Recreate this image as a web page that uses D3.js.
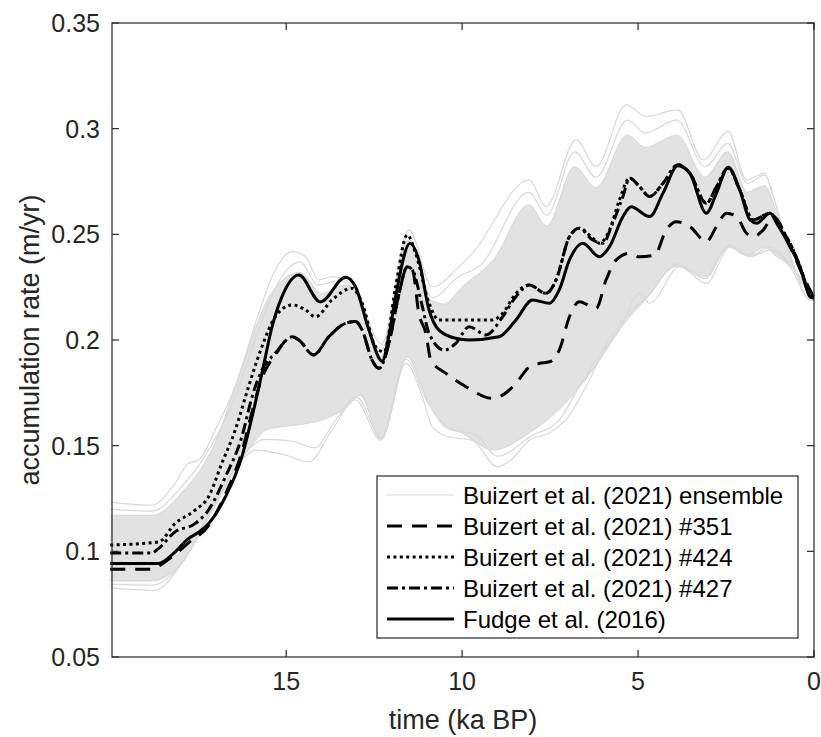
<!DOCTYPE html>
<html>
<head>
<meta charset="utf-8">
<script src="https://cdn.jsdelivr.net/npm/d3@7"></script>
<style>
  body { margin: 0; background: #fff; }
  text { font-family: "Liberation Sans", Arial, Helvetica, sans-serif; fill: #262626; }
</style>
</head>
<body>
<div id="chart"></div>
<script>
// Fudge et al. (2016) - solid
var fudgeTime = [20, 18.63, 18.2, 17.78, 17.49, 17.21, 16.73, 16.26, 15.97, 15.69, 15.40, 15.12, 14.64, 14.03, 13.31, 13.03, 12.65, 12.27, 12.08, 11.89, 11.48, 11.23, 10.94, 10.66, 10.18, 9.80, 8.95, 8.47, 8.0, 7.52, 7.24, 6.95, 6.57, 6.10, 5.81, 5.43, 5.2, 4.67, 4.29, 3.87, 3.53, 3.06, 2.77, 2.44, 2.11, 1.82, 1.63, 1.25, 1.06, 0.68, 0.40, 0.11, 0];
var fudgeAcc = [0.0942, 0.0942, 0.099, 0.106, 0.109, 0.113, 0.1257, 0.1447, 0.1636, 0.1842, 0.2063, 0.2205, 0.2308, 0.218, 0.2297, 0.2252, 0.2047, 0.190, 0.202, 0.2205, 0.2458, 0.2379, 0.2142, 0.2047, 0.2008, 0.2, 0.2015, 0.2095, 0.2189, 0.2174, 0.2237, 0.2379, 0.2458, 0.2394, 0.2442, 0.2584, 0.2630, 0.2584, 0.2695, 0.2824, 0.2789, 0.26, 0.2695, 0.2818, 0.271, 0.2568, 0.2553, 0.26, 0.2553, 0.2442, 0.2347, 0.2205, 0.2199];

// Buizert #424 - dotted
var b424Time = [20, 18.63, 18.16, 17.59, 17.21, 16.83, 16.45, 16.07, 15.69, 15.31, 14.83, 14.45, 14.17, 13.70, 13.13, 12.84, 12.46, 12.22, 11.89, 11.56, 11.32, 10.94, 10.66, 10.18, 9.14, 8.85, 8.47, 8.09, 7.62, 7.33, 6.95, 6.67, 6.29, 6.10, 5.81, 5.53, 5.24, 4.96, 4.67, 4.29, 3.87, 3.53, 3.06, 2.77, 2.44, 2.11, 1.73, 1.25, 0.97, 0.59, 0.30, 0.11, 0];
var b424Acc = [0.103, 0.1044, 0.1131, 0.1195, 0.1257, 0.1416, 0.1573, 0.1779, 0.1968, 0.211, 0.2166, 0.2142, 0.211, 0.2189, 0.2245, 0.2174, 0.1968, 0.1944, 0.2252, 0.2497, 0.241, 0.2174, 0.2095, 0.2095, 0.2095, 0.2126, 0.2221, 0.226, 0.2221, 0.2284, 0.2489, 0.2529, 0.2482, 0.2458, 0.2521, 0.2663, 0.2766, 0.2726, 0.2679, 0.2742, 0.2829, 0.279, 0.2647, 0.2726, 0.2813, 0.271, 0.2568, 0.26, 0.2537, 0.2426, 0.23, 0.2205, 0.22];

// Buizert #427 - dash-dot
var b427Time = [20, 18.82, 18.63, 18.16, 17.59, 17.21, 16.73, 16.26, 15.97, 15.69, 15.31, 14.83, 14.64, 14.22, 13.79, 13.31, 13.03, 12.84, 12.56, 12.36, 12.08, 11.79, 11.56, 11.41, 11.13, 10.94, 10.5, 10.18, 9.80, 9.32, 8.85, 8.47, 8.09, 7.62, 7.33, 6.95, 6.67, 6.29, 6.00, 5.72, 5.43, 5.24, 4.96, 4.67, 4.29, 3.87, 3.53, 3.06, 2.77, 2.44, 2.11, 1.73, 1.25, 0.97, 0.59, 0.30, 0.11, 0];
var b427Acc = [0.0992, 0.0992, 0.1013, 0.1092, 0.1131, 0.1195, 0.1352, 0.1542, 0.1731, 0.1858, 0.1937, 0.2015, 0.2, 0.1929, 0.2015, 0.2079, 0.2087, 0.2047, 0.1905, 0.1866, 0.1984, 0.2221, 0.2347, 0.2331, 0.2158, 0.2031, 0.1952, 0.1984, 0.2063, 0.2024, 0.211, 0.2205, 0.226, 0.2221, 0.2284, 0.2489, 0.2529, 0.2473, 0.2458, 0.2553, 0.2679, 0.2766, 0.2726, 0.2679, 0.2742, 0.2829, 0.279, 0.2647, 0.2726, 0.2813, 0.271, 0.2568, 0.26, 0.2537, 0.2426, 0.23, 0.2205, 0.22];

// Buizert #351 - dashed
var b351Time = [20, 18.82, 18.63, 18.2, 17.78, 17.21, 16.73, 16.26, 15.97, 15.69, 15.31, 14.83, 14.64, 14.22, 13.79, 13.31, 13.03, 12.84, 12.56, 12.36, 12.08, 11.79, 11.56, 11.41, 11.23, 11.03, 10.89, 10.46, 9.89, 9.14, 8.85, 8.47, 8.09, 7.81, 7.52, 7.24, 6.95, 6.67, 6.19, 5.91, 5.62, 5.24, 4.96, 4.53, 4.20, 3.91, 3.53, 3.06, 2.77, 2.49, 2.20, 1.92, 1.73, 1.44, 1.16, 0.68, 0.30, 0];
var b351Acc = [0.0915, 0.0915, 0.093, 0.098, 0.104, 0.112, 0.127, 0.147, 0.166, 0.182, 0.193, 0.2015, 0.2, 0.1929, 0.2015, 0.2079, 0.2087, 0.2047, 0.1905, 0.1866, 0.1984, 0.2221, 0.2347, 0.2331, 0.2126, 0.2031, 0.1905, 0.1842, 0.1779, 0.1724, 0.1739, 0.1795, 0.1873, 0.1889, 0.1897, 0.1952, 0.211, 0.2181, 0.215, 0.2284, 0.2379, 0.241, 0.2394, 0.2402, 0.2521, 0.256, 0.2537, 0.2465, 0.2537, 0.26, 0.2584, 0.2505, 0.2489, 0.2521, 0.2584, 0.2442, 0.23, 0.22];

// ensemble: dense core band
var coreTime = [20, 18.8, 18.0, 17.0, 16.2, 15.5, 14.6, 14.0, 13.3, 12.9, 12.3, 11.55, 11.0, 10.5, 10.0, 9.1, 8.1, 7.6, 6.8, 6.2, 5.3, 4.8, 3.9, 3.1, 2.45, 1.9, 1.4, 1.1, 0.6, 0];
var coreHigh = [0.117, 0.117, 0.127, 0.152, 0.19, 0.22, 0.232, 0.222, 0.226, 0.22, 0.192, 0.247, 0.22, 0.217, 0.225, 0.238, 0.264, 0.254, 0.282, 0.272, 0.297, 0.291, 0.297, 0.277, 0.289, 0.27, 0.273, 0.262, 0.235, 0.22];
var coreLow = [0.086, 0.086, 0.094, 0.122, 0.145, 0.158, 0.16, 0.162, 0.168, 0.174, 0.153, 0.192, 0.172, 0.16, 0.156, 0.148, 0.156, 0.162, 0.175, 0.188, 0.21, 0.219, 0.235, 0.23, 0.244, 0.24, 0.244, 0.240, 0.234, 0.22];

// ensemble: outer members
var ensTopTime = [20, 18.82, 18.16, 17.78, 17.49, 17.02, 16.45, 15.78, 15.31, 14.83, 14.45, 14.07, 13.70, 13.03, 12.56, 12.3, 11.51, 10.85, 10.09, 9.71, 8.09, 7.62, 6.76, 6.19, 5.34, 4.77, 3.87, 3.15, 2.44, 1.92, 1.40, 1.16, 0.59, 0.21, 0];
var ensTopAcc = [0.1233, 0.1218, 0.1321, 0.1416, 0.1431, 0.1573, 0.1779, 0.2126, 0.2331, 0.2418, 0.2394, 0.2284, 0.23, 0.2252, 0.2047, 0.198, 0.2521, 0.2252, 0.2347, 0.241, 0.2758, 0.2631, 0.2947, 0.2821, 0.3113, 0.3058, 0.3089, 0.2852, 0.2987, 0.2758, 0.2789, 0.2679, 0.2363, 0.2205, 0.219];
var ensTop2Time = [20, 18.82, 18.0, 17.2, 16.5, 15.8, 15.2, 14.6, 14.1, 13.5, 13.0, 12.3, 11.55, 10.85, 10.1, 9.5, 8.1, 7.6, 6.8, 6.2, 5.3, 4.8, 3.9, 3.1, 2.45, 1.9, 1.4, 1.1, 0.6, 0];
var ensTop2Acc = [0.12, 0.119, 0.13, 0.148, 0.171, 0.204, 0.228, 0.237, 0.226, 0.228, 0.222, 0.195, 0.249, 0.22, 0.23, 0.235, 0.27, 0.259, 0.289, 0.277, 0.304, 0.298, 0.304, 0.282, 0.293, 0.274, 0.278, 0.265, 0.236, 0.22];
var ensLowTime = [20, 18.75, 17.97, 17.02, 16.26, 15.88, 15.02, 14.36, 13.70, 13.03, 12.31, 11.6, 11.13, 10.85, 10.37, 9.71, 9.0, 8.6, 8.09, 7.52, 6.95, 6.48, 6.00, 5.53, 4.96, 4.67, 3.82, 3.06, 2.39, 1.82, 1.25, 0.68, 0.11, 0];
var ensLowAcc = [0.0828, 0.0815, 0.0942, 0.1226, 0.1431, 0.1479, 0.1455, 0.1423, 0.1573, 0.1716, 0.1526, 0.1889, 0.1731, 0.1589, 0.1542, 0.1526, 0.14, 0.1435, 0.1526, 0.156, 0.1645, 0.178, 0.1937, 0.2047, 0.2221, 0.2174, 0.2347, 0.2268, 0.2442, 0.2394, 0.2426, 0.2347, 0.219, 0.219];
var ensLow2Time = [20, 18.8, 17.9, 17.0, 16.2, 15.6, 14.8, 14.2, 13.6, 13.0, 12.3, 11.6, 11.0, 10.4, 9.6, 9.0, 8.0, 7.3, 6.6, 5.9, 5.3, 4.7, 3.9, 3.1, 2.4, 1.8, 1.25, 0.7, 0];
var ensLow2Acc = [0.0845, 0.084, 0.096, 0.124, 0.146, 0.153, 0.152, 0.149, 0.162, 0.173, 0.154, 0.191, 0.171, 0.158, 0.155, 0.145, 0.155, 0.161, 0.18, 0.198, 0.212, 0.221, 0.236, 0.229, 0.245, 0.24, 0.244, 0.236, 0.22];

// ticks
var xTicks = [15, 10, 5, 0];
var yTicks = [0.05, 0.1, 0.15, 0.2, 0.25, 0.3, 0.35];
var legendLabels = ['Buizert et al. (2021) ensemble', 'Buizert et al. (2021) #351', 'Buizert et al. (2021) #424', 'Buizert et al. (2021) #427', 'Fudge et al. (2016)'];

var svgWidth = 821, svgHeight = 737;
var plotLeft = 112, plotRight = 814, plotTop = 23, plotBottom = 657;

var svg = d3.select('#chart').append('svg')
    .attr('width', svgWidth)
    .attr('height', svgHeight);

svg.append('rect').attr('width', svgWidth).attr('height', svgHeight).attr('fill', '#fff');

var x = d3.scaleLinear().domain([19.95, 0]).range([plotLeft, plotRight]);
var y = d3.scaleLinear().domain([0.05, 0.35]).range([plotBottom, plotTop]);

function pairs(t, v) {
    return t.map(function(d, i) { return [d, v[i]]; });
}

var line = d3.line()
    .x(function(d) { return x(d[0]); })
    .y(function(d) { return y(d[1]); })
    .curve(d3.curveMonotoneX);

var plot = svg.append('g');

// ensemble band
var core = coreTime.map(function(d, i) { return [d, coreLow[i], coreHigh[i]]; });
plot.append('path')
    .datum(core)
    .attr('fill', '#e2e2e2')
    .attr('d', d3.area()
        .x(function(d) { return x(d[0]); })
        .y0(function(d) { return y(d[1]); })
        .y1(function(d) { return y(d[2]); })
        .curve(d3.curveMonotoneX));

var grayMembers = [
    pairs(ensTopTime, ensTopAcc),
    pairs(ensTop2Time, ensTop2Acc),
    pairs(ensLowTime, ensLowAcc),
    pairs(ensLow2Time, ensLow2Acc),
    pairs(coreTime, coreHigh),
    pairs(coreTime, coreLow)
];
plot.selectAll('.member')
    .data(grayMembers)
    .enter().append('path')
    .attr('class', 'member')
    .attr('fill', 'none')
    .attr('stroke', '#d9d9d9')
    .attr('stroke-width', 1.2)
    .attr('d', line);

// highlighted series
var series = [
    { data: pairs(b351Time, b351Acc), dash: '15,10' },
    { data: pairs(b424Time, b424Acc), dash: '3,3.4' },
    { data: pairs(b427Time, b427Acc), dash: '11,4,3,4' },
    { data: pairs(fudgeTime, fudgeAcc), dash: null }
];
plot.selectAll('.series')
    .data(series)
    .enter().append('path')
    .attr('class', 'series')
    .attr('fill', 'none')
    .attr('stroke', '#000')
    .attr('stroke-width', 3)
    .attr('stroke-dasharray', function(d) { return d.dash; })
    .attr('d', function(d) { return line(d.data); });

// axes box
svg.append('rect')
    .attr('x', plotLeft).attr('y', plotTop)
    .attr('width', plotRight - plotLeft).attr('height', plotBottom - plotTop)
    .attr('fill', 'none')
    .attr('stroke', '#262626')
    .attr('stroke-width', 1.2);

var tickLen = 7;
xTicks.forEach(function(t) {
    svg.append('line').attr('x1', x(t)).attr('x2', x(t)).attr('y1', plotBottom).attr('y2', plotBottom - tickLen)
        .attr('stroke', '#262626').attr('stroke-width', 1.2);
    svg.append('line').attr('x1', x(t)).attr('x2', x(t)).attr('y1', plotTop).attr('y2', plotTop + tickLen)
        .attr('stroke', '#262626').attr('stroke-width', 1.2);
    svg.append('text')
        .attr('x', x(t)).attr('y', 690)
        .attr('text-anchor', 'middle')
        .style('font-size', '25px')
        .text(t);
});
yTicks.forEach(function(v) {
    svg.append('line').attr('x1', plotLeft).attr('x2', plotLeft + tickLen).attr('y1', y(v)).attr('y2', y(v))
        .attr('stroke', '#262626').attr('stroke-width', 1.2);
    svg.append('line').attr('x1', plotRight).attr('x2', plotRight - tickLen).attr('y1', y(v)).attr('y2', y(v))
        .attr('stroke', '#262626').attr('stroke-width', 1.2);
    svg.append('text')
        .attr('x', 100).attr('y', y(v) + 9)
        .attr('text-anchor', 'end')
        .style('font-size', '25px')
        .text(String(v));
});

// axis labels
svg.append('text')
    .attr('x', (plotLeft + plotRight) / 2).attr('y', 729)
    .attr('text-anchor', 'middle')
    .style('font-size', '27px')
    .text('time (ka BP)');
svg.append('text')
    .attr('transform', 'translate(39,' + ((plotTop + plotBottom) / 2) + ') rotate(-90)')
    .attr('text-anchor', 'middle')
    .style('font-size', '27px')
    .text('accumulation rate (m/yr)');

// legend
var legend = svg.append('g');
legend.append('rect')
    .attr('x', 377).attr('y', 476)
    .attr('width', 421).attr('height', 162)
    .attr('fill', '#fff')
    .attr('stroke', '#262626')
    .attr('stroke-width', 1.2);

var legendStyles = [
    { color: '#d9d9d9', width: 1.2, dash: null },
    { color: '#000', width: 3, dash: '15,10' },
    { color: '#000', width: 3, dash: '3,3.4' },
    { color: '#000', width: 3, dash: '11,4,3,4' },
    { color: '#000', width: 3, dash: null }
];
var legendG = legend.selectAll('.legend')
    .data(legendLabels)
    .enter().append('g')
    .attr('class', 'legend')
    .attr('transform', function(d, i) { return 'translate(0,' + (495 + i * 31) + ')'; });

legendG.append('line')
    .attr('x1', 387).attr('x2', 454)
    .attr('stroke', function(d, i) { return legendStyles[i].color; })
    .attr('stroke-width', function(d, i) { return legendStyles[i].width; })
    .attr('stroke-dasharray', function(d, i) { return legendStyles[i].dash; });

legendG.append('text')
    .attr('x', 463).attr('y', 8.5)
    .style('font-size', '24px')
    .style('fill', '#000')
    .text(function(d) { return d; });
</script>
</body>
</html>
